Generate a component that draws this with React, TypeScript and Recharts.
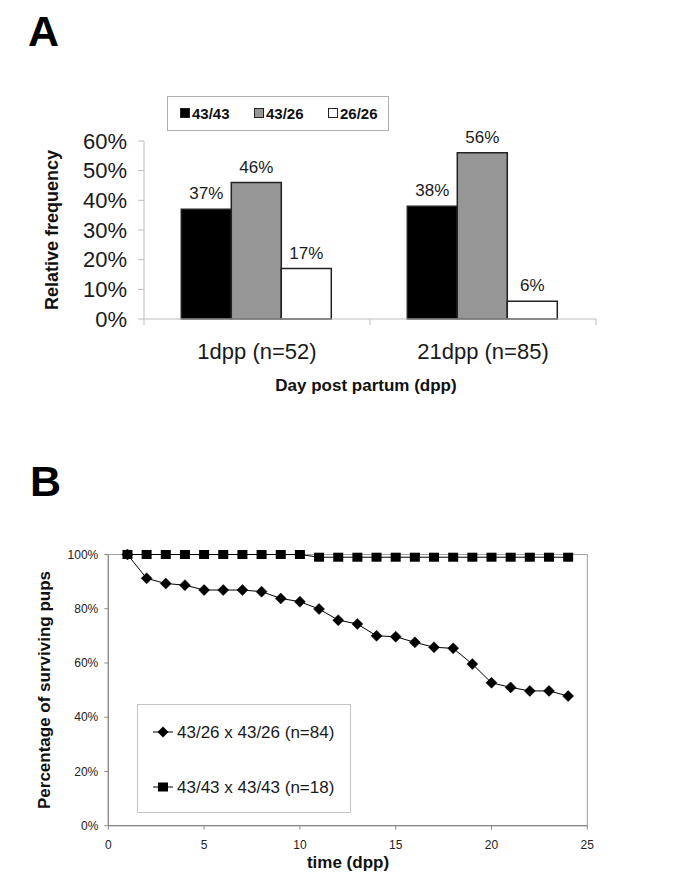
import React from 'react';
import {
  BarChart,
  Bar,
  XAxis,
  YAxis,
  LabelList,
  Legend,
  LineChart,
  Line,
  ReferenceArea,
} from 'recharts';

const FONT = '"Liberation Sans", Arial, Helvetica, sans-serif';

// ---------- Panel A data ----------
const groups = ['1dpp (n=52)', '21dpp (n=85)'];
const freq4343 = [37, 38];
const freq4326 = [46, 56];
const freq2626 = [17, 6];
const freqTicks = [0, 10, 20, 30, 40, 50, 60];
const genotypeNames = ['43/43', '43/26', '26/26'];

// ---------- Panel B data ----------
const days = [1, 2, 3, 4, 5, 6, 7, 8, 9, 10, 11, 12, 13, 14, 15, 16, 17, 18, 19, 20, 21, 22, 23, 24];
const survHet = [100, 91.2, 89.3, 88.7, 86.9, 86.9, 86.9, 86.3, 83.8, 82.6, 79.9, 75.8, 74.4, 70.0, 69.7, 67.6, 65.8, 65.4, 59.6, 52.7, 51.0, 49.7, 49.7, 47.8];
const survWt = [100, 100, 100, 100, 100, 100, 100, 100, 100, 100, 99, 99, 99, 99, 99, 99, 99, 99, 99, 99, 99, 99, 99, 99];
const dayTicks = [0, 5, 10, 15, 20, 25];
const survTicks = [0, 20, 40, 60, 80, 100];
const crossNames = ['43/26 x 43/26 (n=84)', '43/43 x 43/43 (n=18)'];

const barData = groups.map((g, i) => ({
  group: g,
  a: freq4343[i],
  b: freq4326[i],
  c: freq2626[i],
}));

const lineData = days.map((d, i) => ({ day: d, het: survHet[i], wt: survWt[i] }));

const pct = (v: number) => `${v}%`;

const CatTick = (props: any) => {
  const { x, y, payload, index, visibleTicksCount } = props;
  const off = payload && payload.offset ? payload.offset : 113;
  const axisY = y - 6;
  return (
    <g>
      <line x1={x - off} x2={x - off} y1={axisY} y2={axisY + 6} stroke="#bdbdbd" strokeWidth={1} />
      {index === visibleTicksCount - 1 ? (
        <line x1={x + off} x2={x + off} y1={axisY} y2={axisY + 6} stroke="#bdbdbd" strokeWidth={1} />
      ) : null}
      <text x={x} y={axisY + 40.3} textAnchor="middle" fontSize={22} fill="#1a1a1a" fontFamily={FONT}>
        {payload.value}
      </text>
    </g>
  );
};

const DiamondDot = (props: any) => {
  const { cx, cy, index } = props;
  if (cx == null || cy == null) return <g key={`d-${index}`} />;
  return (
    <polygon
      key={`d-${index}`}
      points={`${cx},${cy - 5.5} ${cx + 5.5},${cy} ${cx},${cy + 5.5} ${cx - 5.5},${cy}`}
      fill="#000"
      stroke="#000"
      strokeWidth={0.5}
    />
  );
};

const SquareDot = (props: any) => {
  const { cx, cy, index } = props;
  if (cx == null || cy == null) return <g key={`s-${index}`} />;
  return <rect key={`s-${index}`} x={cx - 5} y={cy - 4.5} width={10} height={9} fill="#000" />;
};

const barColors = ['#000000', '#969696', '#ffffff'];

const LegendA = () => (
  <svg width={222} height={35} style={{ display: 'block' }}>
    <rect x={0.5} y={0.5} width={221} height={34} fill="#fff" stroke="#b0b0b0" strokeWidth={1} />
    {genotypeNames.map((n, i) => (
      <g key={n}>
        <rect
          x={13.5 + i * 74}
          y={12.5}
          width={9}
          height={9}
          fill={barColors[i]}
          stroke="#222"
          strokeWidth={1}
        />
        <text x={25 + i * 74} y={23} fontSize={15} fontWeight="bold" fill="#111" fontFamily={FONT}>
          {n}
        </text>
      </g>
    ))}
  </svg>
);

const LegendB = () => (
  <svg width={214} height={109} style={{ display: 'block' }}>
    <rect x={0.5} y={0.5} width={213} height={108} fill="#fff" stroke="#c4c4c4" strokeWidth={1} />
    <g>
      <line x1={16} x2={36} y1={28} y2={28} stroke="#000" strokeWidth={1} />
      <polygon points="26,22.5 31.5,28 26,33.5 20.5,28" fill="#000" />
      <text x={40} y={34.3} fontSize={17} fill="#1a1a1a" fontFamily={FONT}>
        {crossNames[0]}
      </text>
    </g>
    <g>
      <line x1={16} x2={36} y1={83} y2={83} stroke="#000" strokeWidth={1} />
      <rect x={21} y={78.5} width={10} height={9} fill="#000" />
      <text x={40} y={89.3} fontSize={17} fill="#1a1a1a" fontFamily={FONT}>
        {crossNames[1]}
      </text>
    </g>
  </svg>
);

export default function App() {
  return (
    <div
      style={{
        position: 'absolute',
        left: 0,
        top: 0,
        width: 685,
        height: 895,
        background: '#fff',
        fontFamily: FONT,
        overflow: 'hidden',
      }}
    >
      {/* Panel A */}
      <div style={{ position: 'absolute', left: 0, top: 0 }}>
        <BarChart
          width={685}
          height={420}
          data={barData}
          margin={{ top: 141, right: 89, bottom: 61, left: 84 }}
          barCategoryGap="16.5%"
          barGap={0}
        >
          <XAxis
            dataKey="group"
            height={40}
            axisLine={{ stroke: '#bdbdbd', strokeWidth: 1 }}
            tickLine={false}
            tickSize={6}
            tickMargin={0}
            interval={0}
            tick={<CatTick />}
          />
          <YAxis
            width={60}
            domain={[0, 60]}
            ticks={freqTicks}
            interval={0}
            tickFormatter={pct}
            axisLine={{ stroke: '#bdbdbd', strokeWidth: 1 }}
            tickLine={{ stroke: '#bdbdbd', strokeWidth: 1 }}
            tickSize={6}
            tickMargin={11}
            tick={{ fontSize: 22, fill: '#1a1a1a', fontFamily: FONT }}
          />
          <Legend
            layout="horizontal"
            verticalAlign="middle"
            align="center"
            wrapperStyle={{ left: 167, top: 96, width: 222, height: 35 }}
            content={() => <LegendA />}
          />
          <Bar dataKey="a" name={genotypeNames[0]} fill={barColors[0]} stroke="#222" strokeWidth={1.5} isAnimationActive={false}>
            <LabelList dataKey="a" position="top" offset={10} formatter={pct} style={{ fontSize: 17, fill: '#1a1a1a', fontFamily: FONT }} />
          </Bar>
          <Bar dataKey="b" name={genotypeNames[1]} fill={barColors[1]} stroke="#222" strokeWidth={1.5} isAnimationActive={false}>
            <LabelList dataKey="b" position="top" offset={10} formatter={pct} style={{ fontSize: 17, fill: '#1a1a1a', fontFamily: FONT }} />
          </Bar>
          <Bar dataKey="c" name={genotypeNames[2]} fill={barColors[2]} stroke="#222" strokeWidth={1.5} isAnimationActive={false}>
            <LabelList dataKey="c" position="top" offset={10} formatter={pct} style={{ fontSize: 17, fill: '#1a1a1a', fontFamily: FONT }} />
          </Bar>
        </BarChart>
      </div>

      {/* Panel B */}
      <div style={{ position: 'absolute', left: 0, top: 440 }}>
        <LineChart
          width={685}
          height={455}
          data={lineData}
          margin={{ top: 114.5, right: 97.7, bottom: 39.3, left: 48.3 }}
        >
          <XAxis
            dataKey="day"
            type="number"
            domain={[0, 25]}
            ticks={dayTicks}
            interval={0}
            height={30}
            axisLine={{ stroke: '#8a8a8a', strokeWidth: 1.2 }}
            tickLine={{ stroke: '#8a8a8a', strokeWidth: 1 }}
            tickSize={4}
            tickMargin={11}
            tick={{ fontSize: 12, fill: '#222', fontFamily: FONT }}
          />
          <YAxis
            width={60}
            domain={[0, 100]}
            ticks={survTicks}
            interval={0}
            tickFormatter={pct}
            axisLine={{ stroke: '#8a8a8a', strokeWidth: 1.2 }}
            tickLine={{ stroke: '#8a8a8a', strokeWidth: 1 }}
            tickSize={4}
            tickMargin={6}
            tick={{ fontSize: 12, fill: '#222', fontFamily: FONT }}
          />
          <ReferenceArea x1={0} x2={25} y1={0} y2={100} fill="none" fillOpacity={0} stroke="#a0a0a0" strokeWidth={1} />
          <Legend
            layout="horizontal"
            verticalAlign="middle"
            align="center"
            wrapperStyle={{ left: 137, top: 264, width: 214, height: 109 }}
            content={() => <LegendB />}
          />
          <Line
            dataKey="wt"
            name={crossNames[1]}
            stroke="#000"
            strokeWidth={1}
            dot={SquareDot}
            activeDot={false}
            isAnimationActive={false}
          />
          <Line
            dataKey="het"
            name={crossNames[0]}
            stroke="#000"
            strokeWidth={1}
            dot={DiamondDot}
            activeDot={false}
            isAnimationActive={false}
          />
        </LineChart>
      </div>

      {/* Panel letters and axis titles */}
      <svg
        width={685}
        height={895}
        style={{ position: 'absolute', left: 0, top: 0, pointerEvents: 'none' }}
      >
        <text x={28} y={46} fontSize={43} fontWeight="bold" fill="#000" fontFamily={FONT}>
          A
        </text>
        <text
          x={58}
          y={230}
          transform="rotate(-90 58 230)"
          textAnchor="middle"
          fontSize={18}
          fontWeight="bold"
          fill="#111"
          fontFamily={FONT}
        >
          Relative frequency
        </text>
        <text x={366} y={391} textAnchor="middle" fontSize={17} fontWeight="bold" fill="#111" fontFamily={FONT}>
          Day post partum (dpp)
        </text>

        <text x={30} y={496} fontSize={43} fontWeight="bold" fill="#000" fontFamily={FONT}>
          B
        </text>
        <text
          x={50}
          y={690}
          transform="rotate(-90 50 690)"
          textAnchor="middle"
          fontSize={17}
          fontWeight="bold"
          fill="#111"
          fontFamily={FONT}
        >
          Percentage of surviving pups
        </text>
        <text x={348} y={867.5} textAnchor="middle" fontSize={17} fontWeight="bold" fill="#111" fontFamily={FONT}>
          time (dpp)
        </text>
      </svg>
    </div>
  );
}
